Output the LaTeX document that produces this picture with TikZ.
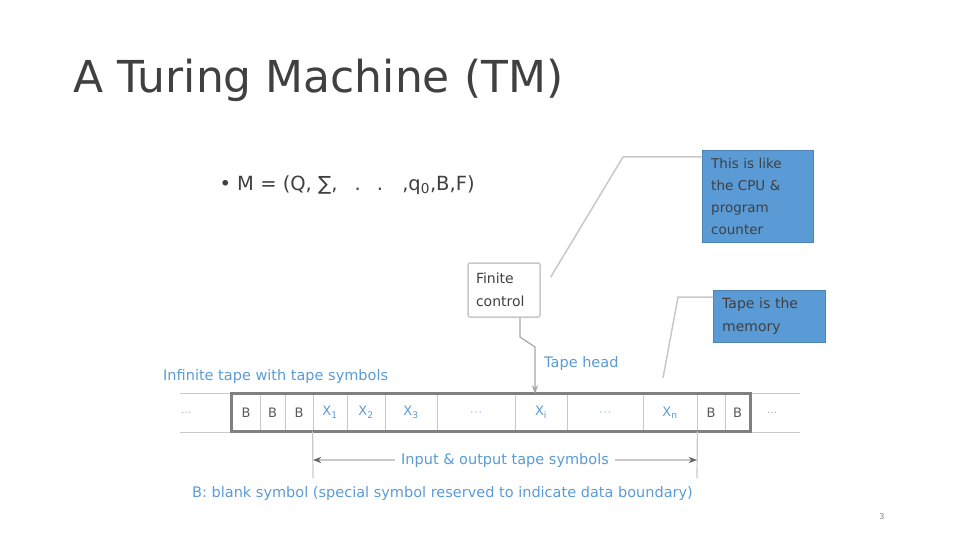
\documentclass[tikz,border=0pt]{standalone}
\usepackage{fontspec}
\setmainfont{DejaVu Sans}
\usetikzlibrary{arrows.meta}
\definecolor{callblue}{HTML}{5B9BD5}
\definecolor{linegray}{HTML}{C8C8C8}
\definecolor{txtgray}{HTML}{404040}

\begin{document}
\begin{tikzpicture}[x=1pt, y=-1pt, >=Stealth,
  cell/.style={draw=linegray, line width=0.8pt, minimum height=37pt,
    inner sep=0pt, font=\fontsize{13}{15}\selectfont},
  note/.style={draw=callblue!85!black, fill=callblue, anchor=north west,
    align=left, text=black!75, inner xsep=9pt, inner ysep=5pt,
    font=\fontsize{13.5}{22}\selectfont},
  lbl/.style={text=callblue, inner sep=0pt, anchor=west,
    font=\fontsize{14.5}{17}\selectfont},
  lead/.style={draw=linegray, line width=1.5pt}]
  \useasboundingbox (0,0) rectangle (960,540);

  % title and tuple
  \node[anchor=west, text=txtgray, font=\fontsize{44}{50}\selectfont] (title)
    at (70,80) {A Turing Machine (TM)};
  \node[anchor=west, text=txtgray, font=\fontsize{19.5}{22}\selectfont] (tuple)
    at (216,185) {\textbullet\ M = (Q, ∑, \;\;.\;\;\;.\;\; ,q\textsubscript{0},B,F)};

  % tape: guide lines, then cells
  \coordinate (tl) at (180,393); \coordinate (tr) at (800,393);
  \coordinate (bl) at (180,432); \coordinate (br) at (800,432);
  \draw[linegray] (tl) -- (tr);
  \draw[linegray] (bl) -- (br);
  \foreach \l/\r/\t [count=\i] in {
      232/260/{\color{gray!70!black}B}, 260/285/{\color{gray!70!black}B},
      285/313/{\color{gray!70!black}B},
      313/347/{\color{callblue}X\textsubscript{1}},
      347/385/{\color{callblue}X\textsubscript{2}},
      385/437/{\color{callblue}X\textsubscript{3}},
      437/515/{\color{callblue!45}…},
      515/567/{\color{callblue}X\textsubscript{i}},
      567/643/{\color{callblue!45}…},
      643/697/{\color{callblue}X\textsubscript{n}},
      697/725/{\color{gray!70!black}B}, 725/750/{\color{gray!70!black}B}} {
    \pgfmathsetmacro\w{\r-\l}
    \node[cell, fill=white, minimum width=\w pt] (c\i) at ({(\l+\r)/2},412.5) {\t};
  }
  \draw[gray, line width=2.5pt] (c1.north west) rectangle (c12.south east);
  \node[text=gray!70, font=\fontsize{10}{10}\selectfont] (ldots) at (186,413) {…};
  \node[text=gray!70, font=\fontsize{10}{10}\selectfont] (rdots) at (772,413) {…};

  % finite control and tape head
  \node[draw=linegray, line width=1.5pt, rounded corners=2pt, align=left,
    minimum width=72pt, minimum height=54pt, text width=56pt, inner sep=4pt,
    font=\fontsize{14}{23}\selectfont, text=txtgray] (fc) at (504,290)
    {Finite\\control};
  \coordinate (h1) at (520,337);
  \coordinate (h2) at (535,347);
  \draw[->, draw=gray!70, line width=1.2pt] ([xshift=16pt]fc.south) -- (h1)
    -- (h2) -- (h2 |- c8.north);
  \node[lbl] (head) at (544,363) {Tape head};
  \node[lbl] (inf) at (163,376) {Infinite tape with tape symbols};

  % callouts
  \node[note, minimum width=111pt, minimum height=92pt, text width=93pt] (cpu)
    at (702,150) {This is like\\the CPU \&\\program\\counter};
  \node[note, minimum width=112pt, minimum height=52pt, text width=94pt,
    font=\fontsize{14}{23}\selectfont] (mem) at (713,290)
    {Tape is the\\memory};
  \coordinate (k1) at (623,157);
  \draw[lead] ([xshift=10pt,yshift=13pt]fc.east) -- (k1) -- (k1 -| cpu.west);
  \coordinate (m0) at (663,378);
  \coordinate (m1) at (678,297);
  \draw[lead] (m0) -- (m1) -- (m1 -| mem.west);

  % input and output span
  \coordinate (g1) at (313,478);
  \coordinate (g2) at (697,478);
  \draw[linegray, line width=1.2pt] (c4.south west) -- (g1);
  \draw[linegray, line width=1.2pt] (c10.south east) -- (g2);
  \coordinate (a1) at (313,460);
  \coordinate (a2) at (697,460);
  \draw[<->, draw=linegray, line width=1.2pt, >={Stealth[black!60]}] (a1) --
    node[fill=white, text=callblue, font=\fontsize{14.5}{17}\selectfont,
      inner xsep=6pt] (io) {Input \& output tape symbols} (a2);
  \node[lbl] (blank) at (192,493)
    {B: blank symbol (special symbol reserved to indicate data boundary)};

  \node[text=gray, font=\fontsize{8}{10}\selectfont] (pg) at (882,517) {3};
\end{tikzpicture}
\end{document}
